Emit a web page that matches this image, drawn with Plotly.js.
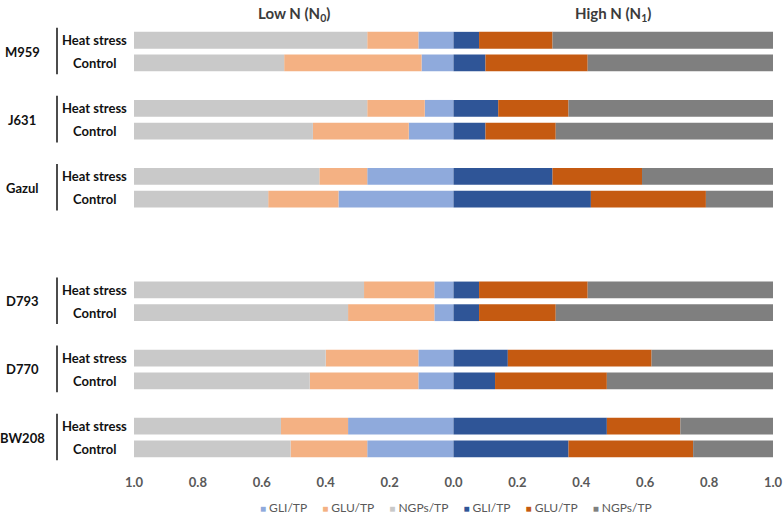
<!DOCTYPE html>
<html>
<head>
<meta charset="utf-8">
<script src="https://cdn.plot.ly/plotly-3.0.1.min.js"></script>
<style>html,body{margin:0;padding:0;background:#fff;}#chart{width:784px;height:515px;}</style>
</head>
<body>
<div id="chart"></div>
<script>
// ---- data (rows: each genotype, Heat stress then Control) ----
const genotypes = ['M959', 'J631', 'Gazul', 'D793', 'D770', 'BW208'];
const treatments = ['Heat stress', 'Control'];

// Low N (N0) proportions
const lowGLI  = [0.11, 0.10, 0.09, 0.14, 0.27, 0.36, 0.06, 0.06, 0.11, 0.11, 0.33, 0.27];
const lowGLU  = [0.16, 0.43, 0.18, 0.30, 0.15, 0.22, 0.22, 0.27, 0.29, 0.34, 0.21, 0.24];
const lowNGP  = [0.73, 0.47, 0.73, 0.56, 0.58, 0.42, 0.72, 0.67, 0.60, 0.55, 0.46, 0.49];

// High N (N1) proportions
const highGLI = [0.08, 0.10, 0.14, 0.10, 0.31, 0.43, 0.08, 0.08, 0.17, 0.13, 0.48, 0.36];
const highGLU = [0.23, 0.32, 0.22, 0.22, 0.28, 0.36, 0.34, 0.24, 0.45, 0.35, 0.23, 0.39];
const highNGP = [0.69, 0.58, 0.64, 0.68, 0.41, 0.21, 0.58, 0.68, 0.38, 0.52, 0.29, 0.25];

const seriesNames = ['GLI/TP', 'GLU/TP', 'NGPs/TP'];
const tickVals = [-1, -0.8, -0.6, -0.4, -0.2, 0, 0.2, 0.4, 0.6, 0.8, 1];

// ---- layout helpers ----
const spacersAfter = [1, 1, 3, 1, 1, 0];
const rowIds = [];
const catArray = [];
let sp = 0;
genotypes.forEach((g, gi) => {
  treatments.forEach(t => { const id = g + ' · ' + t; rowIds.push(id); catArray.push(id); });
  for (let k = 0; k < spacersAfter[gi]; k++) { sp++; catArray.push(' '.repeat(sp)); }
});

const lowColors  = ['#8faadc', '#f4b183', '#c9c9c9'];
const highColors = ['#2f5597', '#c55a11', '#7f7f7f'];
const lowData  = [lowGLI, lowGLU, lowNGP];
const highData = [highGLI, highGLU, highNGP];

const traces = [];
lowData.forEach((arr, i) => traces.push({
  type: 'bar', orientation: 'h', name: seriesNames[i],
  y: rowIds, x: arr.map(v => -v),
  marker: {color: lowColors[i], line: {width: 0}},
  hovertemplate: '%{y}: ' + '%{customdata:.2f}<extra>Low N ' + seriesNames[i] + '</extra>',
  customdata: arr
}));
highData.forEach((arr, i) => traces.push({
  type: 'bar', orientation: 'h', name: seriesNames[i],
  y: rowIds, x: arr,
  marker: {color: highColors[i], line: {width: 0}},
  hovertemplate: '%{y}: %{x:.2f}<extra>High N ' + seriesNames[i] + '</extra>'
}));

const FONT = 'Lato, Carlito, "Noto Sans", sans-serif';
const PL = 134, PR = 773, PT = 26.5, PB = 461.5;
const pxToPaperX = px => (px - PL) / (PR - PL);

const annotations = [
  {text: '<b>Low N (N<sub>0</sub>)</b>', xref: 'x', x: -0.5, yref: 'paper', y: 1, yshift: PT - 13,
   showarrow: false, font: {family: FONT, size: 15, color: '#3b3b3b'}, yanchor: 'middle'},
  {text: '<b>High N (N<sub>1</sub>)</b>', xref: 'x', x: 0.5, yref: 'paper', y: 1, yshift: PT - 13,
   showarrow: false, font: {family: FONT, size: 15, color: '#3b3b3b'}, yanchor: 'middle'}
];
const shapes = [];
genotypes.forEach((g, gi) => {
  const hIdx = catArray.indexOf(g + ' · ' + treatments[0]);
  const cIdx = catArray.indexOf(g + ' · ' + treatments[1]);
  annotations.push({text: '<b>' + g + '</b>', xref: 'paper', x: pxToPaperX(22), yref: 'y', y: (hIdx + cIdx) / 2,
    showarrow: false, xanchor: 'center', font: {family: FONT, size: 13, color: '#111'}});
  treatments.forEach((t, ti) => {
    annotations.push({text: '<b>' + t + '</b>', xref: 'paper', x: pxToPaperX(94), yref: 'y', y: ti === 0 ? hIdx : cIdx,
      showarrow: false, xanchor: 'center', font: {family: FONT, size: 13, color: '#111'}});
  });
  shapes.push({type: 'line', xref: 'paper', x0: pxToPaperX(57), x1: pxToPaperX(57), yref: 'y',
    y0: hIdx - 0.55, y1: cIdx + 0.5, line: {color: '#111', width: 1.5}});
});

// compact legend (Excel-style) built from the series names and colours
const legendItems = [];
lowColors.forEach((c, i) => legendItems.push([c, seriesNames[i]]));
highColors.forEach((c, i) => legendItems.push([c, seriesNames[i]]));
const legendText = legendItems.map(([c, n]) =>
  '<span style="color:' + c + ';font-size:10px">■</span>&nbsp;' + n).join('&nbsp;&nbsp;&nbsp;&nbsp;&nbsp;');
annotations.push({text: legendText, xref: 'paper', x: pxToPaperX(456), xanchor: 'center',
  yref: 'paper', y: 0, yshift: -(508 - PB), yanchor: 'middle', showarrow: false,
  font: {family: FONT, size: 12, color: '#595959'}});

const layout = {
  width: 784, height: 515,
  margin: {l: PL, r: 784 - PR, t: PT, b: 515 - PB, autoexpand: false},
  barmode: 'relative', bargap: 0.26,
  paper_bgcolor: '#fff', plot_bgcolor: '#fff',
  showlegend: false,
  xaxis: {range: [-1, 1], tickvals: tickVals, ticktext: tickVals.map(v => Math.abs(v).toFixed(1)),
    showgrid: false, zeroline: false, showline: false, ticks: '', ticklabelstandoff: 12,
    tickfont: {family: FONT, size: 13, color: '#595959', weight: 'bold'}, fixedrange: true},
  yaxis: {type: 'category', categoryorder: 'array', categoryarray: catArray, autorange: 'reversed',
    showticklabels: false, showgrid: false, zeroline: false, showline: false, ticks: '', fixedrange: true},
  annotations: annotations,
  shapes: shapes
};

Plotly.newPlot('chart', traces, layout, {displayModeBar: false});
</script>
</body>
</html>
